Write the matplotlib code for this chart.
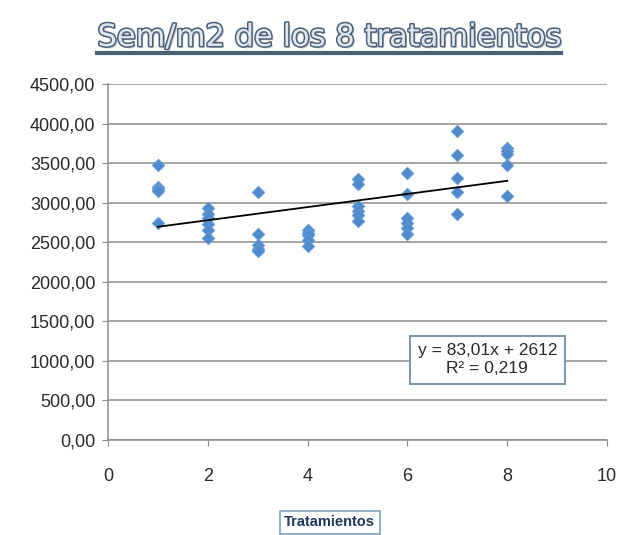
import matplotlib
matplotlib.use("Agg")
import matplotlib.pyplot as plt
import matplotlib.patheffects as pe
from matplotlib.ticker import FuncFormatter

# treatments and seeds per m2 measured on each plot
trat_1 = [3470, 3200, 3170, 3150, 2740]
trat_2 = [2930, 2860, 2800, 2730, 2660, 2550]
trat_3 = [3130, 2610, 2470, 2420, 2390]
trat_4 = [2660, 2620, 2590, 2530, 2450]
trat_5 = [3300, 3230, 2960, 2900, 2840, 2770]
trat_6 = [3380, 3110, 2800, 2740, 2680, 2610]
trat_7 = [3900, 3600, 3310, 3130, 2860]
trat_8 = [3690, 3650, 3620, 3480, 3090]
groups = [trat_1, trat_2, trat_3, trat_4, trat_5, trat_6, trat_7, trat_8]

# linear trend reported on the chart
slope = 83.01
intercept = 2612
r2 = 0.219

xs, ys = [], []
for i, g in enumerate(groups, start=1):
    xs += [i] * len(g)
    ys += g

plt.rcParams["font.family"] = ["Liberation Sans", "DejaVu Sans"]

fig = plt.figure(figsize=(6.22, 5.35), dpi=100)
ax = fig.add_axes([0.1736, 0.1776, 0.8024, 0.6654])

ax.scatter(xs, ys, marker="D", s=42, color="#4f8bcc", edgecolors="#6a9fd8", linewidths=0.5, zorder=3)
tx = [1, 8]
ax.plot(tx, [slope * t + intercept for t in tx], color="black", lw=1.3, zorder=4)

ax.set_xlim(0, 10)
ax.set_ylim(0, 4500)
ax.set_xticks(range(0, 11, 2))
ax.set_yticks(range(0, 4501, 500))
ax.yaxis.set_major_formatter(FuncFormatter(lambda v, p: f"{v:.2f}".replace(".", ",")))
ax.grid(axis="y", color="#8c8c8c", lw=1.1)
ax.set_axisbelow(True)
for s in ["top", "right"]:
    ax.spines[s].set_visible(False)
for s in ["left", "bottom"]:
    ax.spines[s].set_color("#8c8c8c")
    ax.spines[s].set_linewidth(1.1)
ax.tick_params(axis="both", colors="#8c8c8c", labelcolor="#2a2a2a", labelsize=13, length=4)
ax.tick_params(axis="y", pad=5)
ax.tick_params(axis="x", pad=16)

ax.text(0.76, 0.225, f"y = {slope:.2f}x + {intercept}\nR² = {r2:.3f}".replace(".", ","),
        transform=ax.transAxes, ha="center", va="center", fontsize=12.5, color="#2a2a2a",
        linespacing=1.25,
        bbox=dict(boxstyle="square,pad=0.45", fc="white", ec="#6f8fa8", lw=1.3))

# WordArt-like title: outlined letters, soft shadow, underline
title = fig.text(0.529, 0.93, "Sem/m2 de los 8 tratamientos", ha="center", va="center",
                 fontsize=22, color="#dfe6ee", family="DejaVu Sans",
                 path_effects=[pe.withSimplePatchShadow(offset=(1.5, -1.5), shadow_rgbFace="#9aa3ad", alpha=0.6),
                               pe.Stroke(linewidth=2.2, foreground="#4a6078"), pe.Normal()])
fig.canvas.draw()
bb = title.get_window_extent().transformed(fig.transFigure.inverted())
fig.add_artist(plt.Line2D([bb.x0, bb.x1], [bb.y0 - 0.002, bb.y0 - 0.002], transform=fig.transFigure,
                          color="#4a6078", lw=3,
                          path_effects=[pe.withSimplePatchShadow(offset=(1.5, -2), shadow_rgbFace="#9aa3ad", alpha=0.6)]))

fig.text(0.53, 0.024, "Tratamientos", ha="center", va="center", fontsize=10.5, fontweight="bold",
         color="#1f3a5a",
         bbox=dict(boxstyle="square,pad=0.3", fc="white", ec="#7fa3c0", lw=1.2))

fig.savefig("out.png", dpi=100)
